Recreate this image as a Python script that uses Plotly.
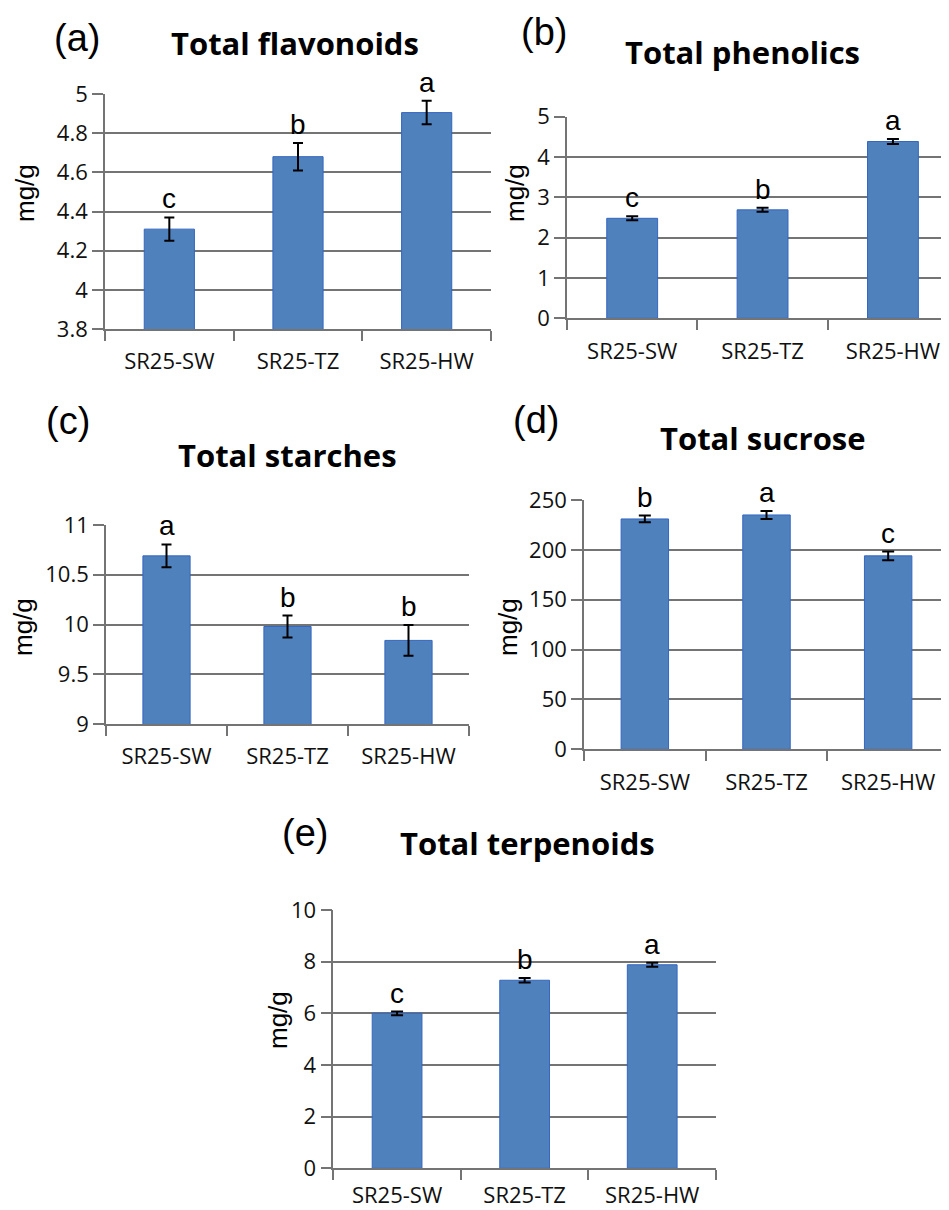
import plotly.graph_objects as go

# ---------------- data ----------------
categories = ["SR25-SW", "SR25-TZ", "SR25-HW"]

flavonoids = [4.31, 4.68, 4.905]
flavonoids_err = [0.06, 0.07, 0.06]
flavonoids_letters = ["c", "b", "a"]

phenolics = [2.48, 2.69, 4.385]
phenolics_err = [0.05, 0.05, 0.06]
phenolics_letters = ["c", "b", "a"]

starches = [10.69, 9.98, 9.84]
starches_err = [0.115, 0.11, 0.155]
starches_letters = ["a", "b", "b"]

sucrose = [231, 235, 194]
sucrose_err = [3.4, 4.0, 4.3]
sucrose_letters = ["b", "a", "c"]

terpenoids = [6.0, 7.28, 7.88]
terpenoids_err = [0.07, 0.09, 0.08]
terpenoids_letters = ["c", "b", "a"]

# ---------------- layout helpers ----------------
W, H = 949, 1210
OFF = 8  # page body margin compensation


def fx(x):
    return (x - OFF) / W


def fy(y):
    return 1 - (y - OFF) / H


BAR = "#4F81BD"
BAR_EDGE = "#3566C2"
GRID = "#747474"
TXT = "#111111"
TICKFONT = dict(family="Open Sans", size=22, color=TXT)

panels = [
    dict(tag="(a)", title="Total flavonoids", vals=flavonoids, err=flavonoids_err,
         letters=flavonoids_letters, box=(105, 94, 491, 329), yr=[3.8, 5], dt=0.2,
         xr=[-0.5, 2.5], tagxy=(77, 38), titlexy=(295, 43), ytxy=(25, 193), cap=5,
         standoff=12),
    dict(tag="(b)", title="Total phenolics", vals=phenolics, err=phenolics_err,
         letters=phenolics_letters, box=(567, 116.7, 949, 318.3), yr=[0, 5], dt=1,
         xr=[-0.5, 2.43], tagxy=(544, 32), titlexy=(742, 52), ytxy=(515, 193), cap=6,
         standoff=12),
    dict(tag="(c)", title="Total starches", vals=starches, err=starches_err,
         letters=starches_letters, box=(106, 525, 469, 724), yr=[9, 11], dt=0.5,
         xr=[-0.5, 2.5], tagxy=(68, 421), titlexy=(287, 455), ytxy=(23, 627), cap=5,
         standoff=12),
    dict(tag="(d)", title="Total sucrose", vals=sucrose, err=sucrose_err,
         letters=sucrose_letters, box=(584, 500, 949, 749.3), yr=[0, 250], dt=50,
         xr=[-0.5, 2.5], tagxy=(536, 420), titlexy=(763, 438), ytxy=(508, 627), cap=6,
         standoff=12),
    dict(tag="(e)", title="Total terpenoids", vals=terpenoids, err=terpenoids_err,
         letters=terpenoids_letters, box=(333.3, 910, 716, 1168.3), yr=[0, 10], dt=2,
         xr=[-0.5, 2.5], tagxy=(305, 833), titlexy=(527, 843), ytxy=(278, 1020), cap=6,
         standoff=6),
]

fig = go.Figure()
annotations = []

for i, p in enumerate(panels, start=1):
    xa = "x" if i == 1 else f"x{i}"
    ya = "y" if i == 1 else f"y{i}"
    xkey = "xaxis" if i == 1 else f"xaxis{i}"
    ykey = "yaxis" if i == 1 else f"yaxis{i}"
    x0, y0, x1, y1 = p["box"]

    fig.add_trace(go.Bar(
        x=categories, y=p["vals"], xaxis=xa, yaxis=ya, width=0.39,
        marker=dict(color=BAR, line=dict(color=BAR_EDGE, width=1)),
        error_y=dict(type="data", array=p["err"], visible=True,
                     color="black", thickness=2, width=p["cap"]),
        showlegend=False,
    ))

    fig.layout[xkey] = dict(
        domain=[fx(x0), fx(x1)], anchor=ya, type="category", range=p["xr"],
        showline=True, linecolor=GRID, linewidth=1.6,
        ticks="outside", tickson="boundaries", ticklen=10, tickcolor=GRID,
        tickwidth=1.6, tickfont=TICKFONT, ticklabelstandoff=p["standoff"],
        showgrid=False, fixedrange=True, automargin=False,
    )
    fig.layout[ykey] = dict(
        domain=[fy(y1), fy(y0)], anchor=xa, range=p["yr"], dtick=p["dt"],
        tick0=p["yr"][0],
        showline=True, linecolor=GRID, linewidth=1.6,
        ticks="outside", ticklen=11, tickcolor=GRID, tickwidth=1.6,
        tickfont=TICKFONT, showgrid=True, gridcolor=GRID, gridwidth=1.6,
        zeroline=False, fixedrange=True, automargin=False,
    )

    # significance letters
    for c, v, e, L in zip(categories, p["vals"], p["err"], p["letters"]):
        annotations.append(dict(
            x=c, y=v + e, xref=xa, yref=ya, text=L, showarrow=False,
            yanchor="bottom", xanchor="center", yshift=1,
            font=dict(family="Liberation Sans", size=28, color="black"),
        ))

    # panel tag
    annotations.append(dict(
        x=fx(p["tagxy"][0]), y=fy(p["tagxy"][1]), xref="paper", yref="paper",
        text=p["tag"], showarrow=False, xanchor="center", yanchor="middle",
        font=dict(family="Liberation Sans", size=38, color="black"),
    ))
    # title
    annotations.append(dict(
        x=fx(p["titlexy"][0]), y=fy(p["titlexy"][1]), xref="paper", yref="paper",
        text="<b>" + p["title"] + "</b>", showarrow=False, xanchor="center",
        yanchor="middle",
        font=dict(family="Open Sans", size=31, color="black"),
    ))
    # y title
    annotations.append(dict(
        x=fx(p["ytxy"][0]), y=fy(p["ytxy"][1]), xref="paper", yref="paper",
        text="mg/g", showarrow=False, xanchor="center", yanchor="middle",
        textangle=-90,
        font=dict(family="Liberation Sans", size=26, color="black"),
    ))

fig.update_layout(
    width=W, height=H, margin=dict(l=0, r=0, t=0, b=0, autoexpand=False),
    paper_bgcolor="white", plot_bgcolor="white",
    annotations=annotations, bargap=0.6,
)

fig.write_html("out.html")
